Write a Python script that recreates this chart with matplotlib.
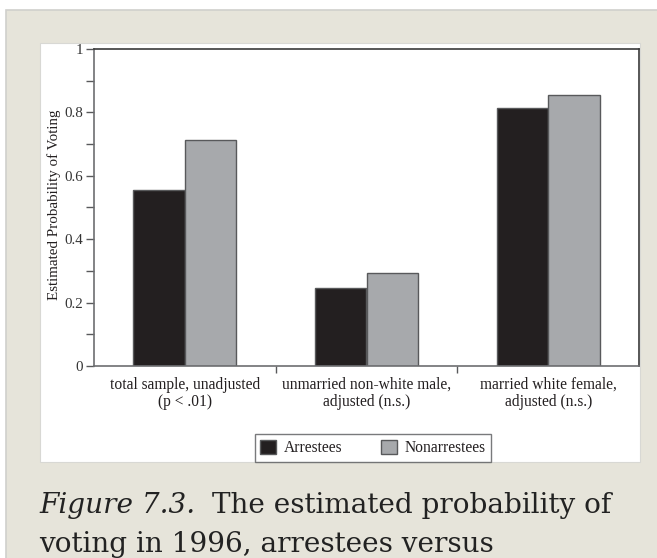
import matplotlib.pyplot as plt
from matplotlib.patches import Rectangle
from matplotlib.ticker import MultipleLocator, FixedLocator, NullFormatter

# data
categories = ["total sample, unadjusted\n(p < .01)",
              "unmarried non-white male,\nadjusted (n.s.)",
              "married white female,\nadjusted (n.s.)"]
arrestees = [0.555, 0.245, 0.814]
nonarrestees = [0.714, 0.294, 0.856]
series_names = ["Arrestees", "Nonarrestees"]

W, H = 657, 558
BEIGE = "#e6e4da"
DARK = "#231f20"
GRAY = "#a7a9ac"
EDGE = "#58595b"


def fx(px):
    return px / W


def fy(py):
    return 1 - py / H


fig = plt.figure(figsize=(W / 100, H / 100), dpi=100)
fig.patch.set_facecolor("white")

# outer beige frame and white panel
fig.patches.append(Rectangle((fx(6), -0.01), 1.01 - fx(6), fy(10) + 0.01,
                             transform=fig.transFigure, facecolor=BEIGE,
                             edgecolor="#d0d0cc", lw=1.2, zorder=0))
fig.patches.append(Rectangle((fx(40), fy(462)), fx(640) - fx(40), fy(43) - fy(462),
                             transform=fig.transFigure, facecolor="white",
                             edgecolor="#d8d8d4", lw=0.8, zorder=1))

ax = fig.add_axes([fx(94), fy(366), fx(639) - fx(94), fy(49) - fy(366)])
ax.set_zorder(5)
ax.set_facecolor("white")

x = range(len(categories))
bw = 0.283
ax.bar([i - bw / 2 for i in x], arrestees, width=bw, color=DARK, edgecolor=EDGE,
       lw=1, label=series_names[0], zorder=2)
ax.bar([i + bw / 2 for i in x], nonarrestees, width=bw, color=GRAY, edgecolor=EDGE,
       lw=1, label=series_names[1], zorder=2)

ax.set_xlim(-0.5, 2.5)
ax.set_ylim(0, 1)

serif = "Liberation Serif"
ax.yaxis.set_minor_locator(MultipleLocator(0.1))
ax.set_yticks([0, 0.2, 0.4, 0.6, 0.8, 1.0])
ax.set_yticklabels(["0", "0.2", "0.4", "0.6", "0.8", "1"], fontfamily=serif,
                   fontsize=10.8, color="#333333")
ax.tick_params(axis="y", which="major", direction="out", length=6, width=1,
               color=EDGE, pad=2)
ax.tick_params(axis="y", which="minor", direction="out", length=6, width=1, color=EDGE)

ax.set_xticks(list(x))
ax.set_xticklabels(categories, fontfamily=serif, fontsize=11.2, color=DARK,
                   linespacing=1.1)
ax.tick_params(axis="x", which="major", length=0, pad=8)
ax.xaxis.set_minor_locator(FixedLocator([0.5, 1.5]))
ax.xaxis.set_minor_formatter(NullFormatter())
ax.tick_params(axis="x", which="minor", direction="out", length=5, width=1, color=EDGE)

for side in ["left", "bottom"]:
    ax.spines[side].set_color("#6d6e71")
    ax.spines[side].set_linewidth(1.2)
for side in ["top", "right"]:
    ax.spines[side].set_color("#3a3a3a")
    ax.spines[side].set_linewidth(1.2)

fig.text(fx(54), fy(205), "Estimated Probability of Voting", rotation=90,
         ha="center", va="center", fontfamily=serif, fontsize=10.8, color=DARK)

leg = fig.legend(loc="center", bbox_to_anchor=(fx(373), fy(448)), ncol=2,
                 prop={"family": serif, "size": 11.2}, frameon=True, fancybox=False,
                 handlelength=1.0, handleheight=1.0, handletextpad=0.5,
                 columnspacing=2.5, borderpad=0.35)
leg.set_zorder(6)
leg.get_frame().set_edgecolor(EDGE)
leg.get_frame().set_linewidth(1.0)
for t in leg.get_texts():
    t.set_color(DARK)

# caption below the panel
cap = {"fontfamily": "DejaVu Serif", "fontsize": 20.1, "color": "#222222", "va": "baseline"}
fig.text(fx(39), fy(513), "Figure 7.3.", style="italic", **cap)
fig.text(fx(212), fy(513), "The estimated probability of", **cap)
fig.text(fx(39), fy(552), "voting in 1996, arrestees versus", **cap)

fig.savefig("out.png", dpi=100, facecolor=fig.get_facecolor())
